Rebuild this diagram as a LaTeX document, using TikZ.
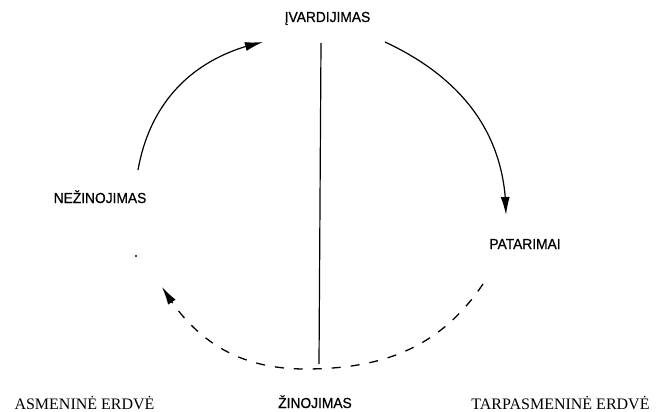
\documentclass[tikz,border=0pt]{standalone}
\usepackage{fontspec}
\setmainfont{Liberation Serif}
\newfontfamily\labelsans[FakeStretch=0.95,FakeBold=0.7]{Liberation Sans}
\usetikzlibrary{arrows.meta,bending}
\begin{document}
\begin{tikzpicture}[x=1pt,y=1pt,
  lbl/.style={font=\labelsans\fontsize{14.5}{17}\selectfont, inner sep=0pt, anchor=base},
  spacelbl/.style={font=\fontsize{16}{19}\selectfont, inner sep=0pt, anchor=base},
  flow/.style={line width=1.2pt, -{Latex[length=18pt,width=9pt]}},
  dashflow/.style={line width=1.3pt, dash pattern=on 9pt off 10pt, -{Latex[length=18pt,width=9pt]}},
  divider/.style={line width=1.2pt}]
\useasboundingbox (0,0) rectangle (657,-412);
% labels
\node[lbl] (ivard) at (327.5,-22) {ĮVARDIJIMAS};
\node[lbl] (nezin) at (100,-203) {NEŽINOJIMAS};
\node[lbl] (patar) at (525,-249) {PATARIMAI};
\node[lbl] (zinoj) at (315,-408) {ŽINOJIMAS};
\node[spacelbl] (asm) at (84.5,-409) {ASMENINĖ ERDVĖ};
\node[spacelbl] (tarp) at (560.5,-409) {TARPASMENINĖ ERDVĖ};
% connector ends
\coordinate (L1) at (138,-170);
\coordinate (L2) at (263,-42);
\coordinate (R1) at (385,-42);
\coordinate (R2) at (506,-215);
\coordinate (D1) at (483,-284);
\coordinate (DB) at (305,-369);
\coordinate (D2) at (162,-287);
\coordinate (V1) at (321,-43);
\coordinate (V2) at (319,-364);
\coordinate (dot) at (136,-256);
% divider
\draw[divider] (V1) -- (V2);
% arcs
\draw[flow] (L1) to[out=80,in=192] (L2);
\draw[flow] (R1) to[out=-25,in=90] (R2);
\draw[dashflow] (D1) to[out=236,in=0] (DB) to[out=180,in=-59] (D2);
\fill (dot) circle (1.1pt);
\end{tikzpicture}
\end{document}
